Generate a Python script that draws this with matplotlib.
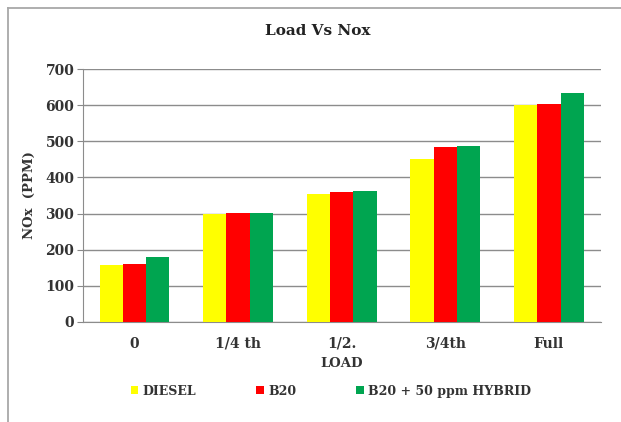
import matplotlib
matplotlib.use("Agg")
import matplotlib.pyplot as plt
import numpy as np
from matplotlib.lines import Line2D

categories = ["0", "1/4 th", "1/2.", "3/4th", "Full"]
diesel = [157, 300, 355, 451, 600]
b20 = [161, 302, 359, 485, 603]
hybrid = [180, 302, 362, 488, 634]
series_names = ["DIESEL", "B20", "B20 + 50 ppm HYBRID"]
colors = ["#FFFF00", "#FF0000", "#00A550"]
yticks = [0, 100, 200, 300, 400, 500, 600, 700]

plt.rcParams['font.family'] = ['DejaVu Serif']
W, H = 621, 422
fig = plt.figure(figsize=(W / 100, H / 100), dpi=100)
fig.patch.set_facecolor("white")
# chart frame (left and top edges visible)
fig.add_artist(Line2D([8 / W, 8 / W], [0, 1 - 8 / H], transform=fig.transFigure,
                      color="#A8A8A8", linewidth=1.3))
fig.add_artist(Line2D([8 / W, 1], [1 - 8 / H, 1 - 8 / H], transform=fig.transFigure,
                      color="#A8A8A8", linewidth=1.3))

ax = fig.add_axes([82.7 / W, 1 - 321.7 / H, (600.7 - 82.7) / W, (321.7 - 69.3) / H])
x = np.arange(len(categories))
w = 0.225
for i, (vals, name, c) in enumerate(zip([diesel, b20, hybrid], series_names, colors)):
    ax.bar(x + (i - 1) * w, vals, w, color=c, label=name, zorder=3)

ax.set_xlim(-0.5, 4.5)
ax.set_ylim(0, 700)
ax.set_yticks(yticks)
ax.set_yticklabels([str(t) for t in yticks], fontsize=10, fontweight='bold', color="#333333")
ax.set_xticks(x)
ax.set_xticklabels(categories, fontsize=10, fontweight='bold', color="#333333")
ax.tick_params(axis='x', length=0, pad=11)
ax.tick_params(axis='y', length=4, color="#888888", pad=2)
ax.grid(axis='y', color="#8C8C8C", linewidth=1, zorder=0)
for s in ["top", "right"]:
    ax.spines[s].set_visible(False)
ax.spines["left"].set_color("#8C8C8C")
ax.spines["bottom"].set_color("#8C8C8C")

fig.text(318 / W, 1 - 31 / H, "Load Vs Nox", fontsize=11, fontweight='bold',
         color="#222222", ha='center', va='center')
ax.set_xlabel("LOAD", fontsize=9.5, fontweight='bold', labelpad=4, color="#333333")
ax.set_ylabel("NOx  (PPM)", fontsize=9.5, fontweight='bold', labelpad=7, color="#333333")

leg = ax.legend(loc="center", bbox_to_anchor=(0.479, -0.275), ncol=3, frameon=False,
                prop={'weight': 'bold', 'size': 9}, handlelength=0.6, handleheight=0.6,
                handletextpad=0.35, columnspacing=4.8)
for t in leg.get_texts():
    t.set_color("#333333")

fig.savefig("out.png", dpi=100)
